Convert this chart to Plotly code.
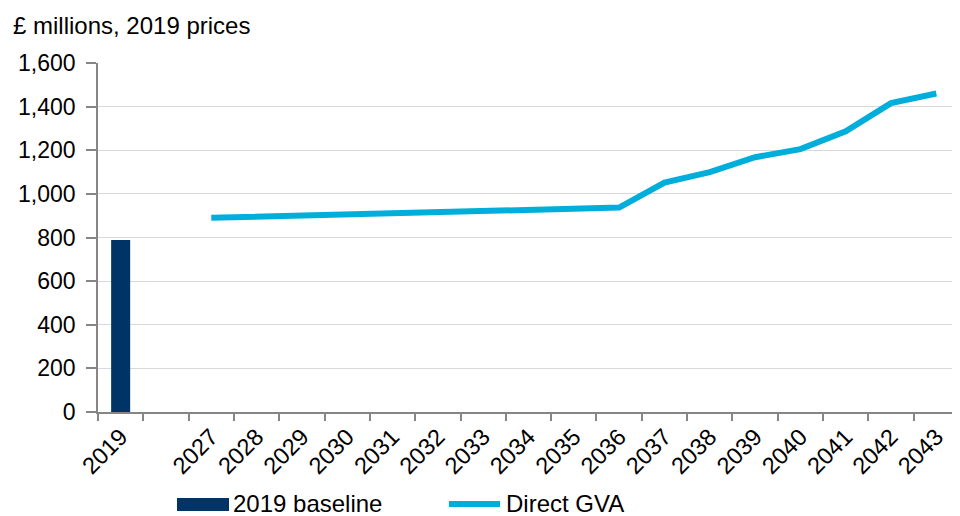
import plotly.graph_objects as go

categories = ["2019", " ", "2027", "2028", "2029", "2030", "2031", "2032", "2033",
              "2034", "2035", "2036", "2037", "2038", "2039", "2040", "2041", "2042", "2043"]
baseline = [789] + [None] * 18
direct_gva = [None, None, 890, 895, 900, 905, 910, 915, 920, 925, 930, 937,
              1052, 1100, 1168, 1205, 1287, 1416, 1460]
y_ticks = [0, 200, 400, 600, 800, 1000, 1200, 1400, 1600]

font = "Liberation Sans, Arial, sans-serif"
BAR_COLOR = "#003366"
LINE_COLOR = "#00AEDB"

# page has an 8px body margin, so the figure is laid out 8px smaller
OFF = 8
W, H = 960 - OFF, 516 - OFF
L, R, T, B = 98 - OFF, 1, 63 - OFF, 104
pw, ph = W - L - R, H - T - B


def px_x(x):
    return (x - OFF - L) / pw


def px_y(y):
    return (H - B - (y - OFF)) / ph


fig = go.Figure()
fig.add_trace(go.Bar(x=categories, y=baseline, name="2019 baseline",
                     marker=dict(color=BAR_COLOR, line=dict(width=0)), width=0.42))
fig.add_trace(go.Scatter(x=categories, y=direct_gva, name="Direct GVA", mode="lines",
                         line=dict(color=LINE_COLOR, width=6), connectgaps=False))

fig.update_layout(
    width=W, height=H,
    margin=dict(l=L, r=R, t=T, b=B, autoexpand=False),
    paper_bgcolor="white", plot_bgcolor="white",
    font=dict(family=font, size=22, color="#000000"),
    showlegend=False,
)
fig.update_xaxes(type="category", categoryorder="array", categoryarray=categories,
                 tickangle=-45, tickson="boundaries", ticks="outside", ticklen=7,
                 tickcolor="#868686", tickwidth=1.5, showline=True, linecolor="#868686",
                 linewidth=1.5, showgrid=False, tickfont=dict(size=23.5), automargin=False)
fig.update_yaxes(range=[0, 1600], tickvals=y_ticks, tickformat=",", ticks="outside",
                 ticklen=10, ticklabelstandoff=6, tickcolor="#868686", tickwidth=1.5,
                 showline=True, linecolor="#868686", linewidth=1.5, gridcolor="#d9d9d9",
                 gridwidth=1.3, zeroline=False, tickfont=dict(size=23), automargin=False)
fig.add_annotation(text="£ millions, 2019 prices", xref="paper", yref="paper",
                   x=px_x(11), y=px_y(25), xanchor="left", yanchor="middle",
                   showarrow=False, font=dict(size=24))

# Legend (drawn to match the reference's wide swatches)
ly = 504
fig.add_shape(type="rect", xref="paper", yref="paper",
              x0=px_x(177), x1=px_x(229), y0=px_y(ly - 6), y1=px_y(ly + 7),
              fillcolor=BAR_COLOR, line=dict(width=0))
fig.add_annotation(text="2019 baseline", xref="paper", yref="paper",
                   x=px_x(231), y=px_y(ly), xanchor="left", yanchor="middle",
                   showarrow=False, font=dict(size=24))
fig.add_shape(type="line", xref="paper", yref="paper",
              x0=px_x(449), x1=px_x(500), y0=px_y(ly), y1=px_y(ly),
              line=dict(color=LINE_COLOR, width=6))
fig.add_annotation(text="Direct GVA", xref="paper", yref="paper",
                   x=px_x(504), y=px_y(ly), xanchor="left", yanchor="middle",
                   showarrow=False, font=dict(size=24))

fig.write_html("out.html")
